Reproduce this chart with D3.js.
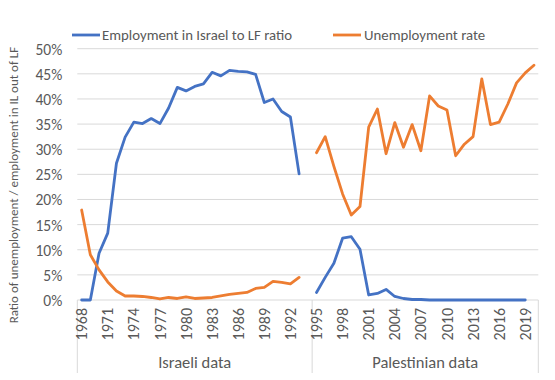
<!DOCTYPE html>
<html><head><meta charset="utf-8">
<script src="https://cdn.jsdelivr.net/npm/d3@7"></script>
<style>
html,body{margin:0;padding:0;background:#fff;}
svg text{font-family:Carlito,Lato,"Open Sans",sans-serif;fill:#595959;}
</style></head>
<body><svg id="c" width="555" height="380"></svg>
<script>
const years = d3.range(1968, 2021).map(String);
const groups = [
  {name: "Israeli data", from: "1968", to: "1994"},
  {name: "Palestinian data", from: "1995", to: "2020"}
];
const tickYears = ["1968","1971","1974","1977","1980","1983","1986","1989","1992","1995","1998","2001","2004","2007","2010","2013","2016","2019"];
const yTicks = [0,5,10,15,20,25,30,35,40,45,50];

const israeliYears = d3.range(1968, 1994).map(String);
const israeliEmployment = [0,0,9.3,13.3,27.2,32.4,35.4,35.1,36.1,35.1,38.2,42.3,41.6,42.5,43.0,45.3,44.6,45.7,45.5,45.4,44.9,39.3,40.0,37.5,36.4,25.1];
const israeliUnemployment = [17.9,9.0,6.0,3.6,1.8,0.8,0.8,0.7,0.5,0.2,0.5,0.3,0.6,0.3,0.4,0.5,0.8,1.1,1.3,1.5,2.3,2.5,3.7,3.5,3.2,4.5];

const palYearsEmp = d3.range(1995, 2020).map(String);
const palEmployment = [1.5,4.5,7.3,12.3,12.6,10.1,1.0,1.3,2.1,0.7,0.3,0.1,0.1,0,0,0,0,0,0,0,0,0,0,0,0];
const palYearsUnemp = d3.range(1995, 2021).map(String);
const palUnemployment = [29.3,32.5,26.6,21.1,16.9,18.6,34.4,38.0,29.1,35.3,30.4,34.9,29.7,40.6,38.6,37.8,28.7,31.0,32.5,44.0,34.9,35.4,39.0,43.2,45.2,46.7];

const seriesNames = ["Employment in Israel to LF ratio", "Unemployment rate"];
const colors = ["#4472C4", "#ED7D31"];

const svg = d3.select("#c");
const mLeft = 77.3, mRight = 538.3, mTop = 48.7, mBottom = 300;
const x = d3.scaleBand().domain(years).range([mLeft, mRight]).padding(0);
const y = d3.scaleLinear().domain([0, 50]).range([mBottom, mTop]);
const cx = d => x(d) + x.bandwidth()/2;

// gridlines
svg.append("g").selectAll("line").data(yTicks.slice(1)).join("line")
  .attr("x1", mLeft).attr("x2", mRight)
  .attr("y1", d => y(d)).attr("y2", d => y(d))
  .attr("stroke", "#d9d9d9").attr("stroke-width", 1);

// y axis labels
const yAxis = d3.axisLeft(y).tickValues(yTicks).tickFormat(d => d + "%").tickSize(0).tickPadding(0);
const ya = svg.append("g").attr("transform", `translate(${mLeft-15},0)`).call(yAxis);
ya.select(".domain").remove();
ya.selectAll("text").style("font-size", "15.5px").attr("fill", "#595959").attr("dy", "0.35em");

// x axis line
svg.append("line").attr("x1", mLeft).attr("x2", mRight).attr("y1", mBottom).attr("y2", mBottom)
  .attr("stroke", "#d9d9d9").attr("stroke-width", 1);

// group separators
const seps = [mLeft, x(groups[1].from), mRight];
svg.append("g").selectAll("line").data(seps).join("line")
  .attr("x1", d => d).attr("x2", d => d).attr("y1", mBottom).attr("y2", 373)
  .attr("stroke", "#d9d9d9").attr("stroke-width", 1);

// year tick labels
const xAxis = d3.axisBottom(x).tickValues(tickYears).tickSize(0).tickPadding(0);
const xa = svg.append("g").attr("transform", `translate(0,${mBottom})`).call(xAxis);
xa.select(".domain").remove();
xa.selectAll("text")
  .attr("transform", "rotate(-90)")
  .attr("x", -8).attr("y", 0).attr("dy", "0.35em")
  .attr("text-anchor", "end")
  .style("font-size", "16px").attr("fill", "#595959");

// group labels
svg.append("g").selectAll("text").data(groups).join("text")
  .attr("x", d => (x(d.from) + x(d.to) + x.bandwidth())/2)
  .attr("y", 368)
  .attr("text-anchor", "middle")
  .style("font-size", "16.5px")
  .text(d => d.name);

// y axis title
svg.append("text")
  .attr("transform", `translate(18,${(43+327)/2}) rotate(-90)`)
  .attr("text-anchor", "middle")
  .style("font-size", "13px")
  .text("Ratio of unemployment / employment in IL out of LF");

// lines
const line = d3.line().x(d => cx(d[0])).y(d => y(d[1]));
const seriesData = [
  [d3.zip(israeliYears, israeliEmployment), d3.zip(palYearsEmp, palEmployment)],
  [d3.zip(israeliYears, israeliUnemployment), d3.zip(palYearsUnemp, palUnemployment)]
];
seriesData.forEach((segs, i) => {
  segs.forEach(seg => {
    svg.append("path").datum(seg).attr("d", line)
      .attr("fill", "none").attr("stroke", colors[i]).attr("stroke-width", 2.8)
      .attr("stroke-linejoin", "round").attr("stroke-linecap", "round");
  });
});

// legend
const legendPos = [{lx: 72, tx: 102}, {lx: 333, tx: 364}];
seriesNames.forEach((n, i) => {
  svg.append("line").attr("x1", legendPos[i].lx).attr("x2", legendPos[i].lx + 28)
    .attr("y1", 35).attr("y2", 35).attr("stroke", colors[i]).attr("stroke-width", 2.8);
  svg.append("text").attr("x", legendPos[i].tx).attr("y", 35).attr("dy", "0.35em")
    .style("font-size", "14.8px").text(n);
});
</script></body></html>
